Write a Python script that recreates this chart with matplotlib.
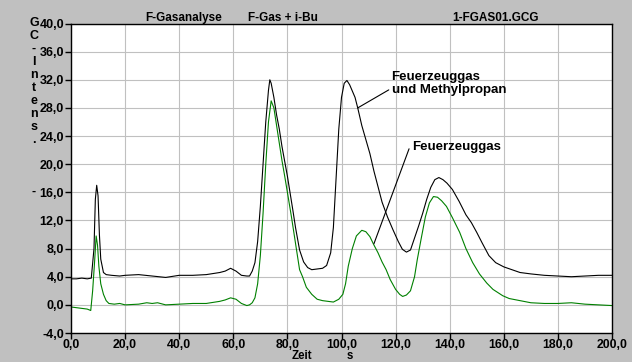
import matplotlib
matplotlib.use("Agg")
import matplotlib.pyplot as plt
from matplotlib.ticker import FuncFormatter

# ---- data ----
x_black = [0, 2, 4, 6, 7.5, 8.5, 9.0, 9.5, 10.0, 10.5, 11, 12, 13, 15, 18, 20, 25, 30, 35, 40, 45, 50,
           55, 57, 59, 61, 63, 65, 66, 67, 68, 69, 70, 71, 72, 73, 73.5, 74, 75, 76, 77, 78, 80, 82,
           83, 84.5, 86, 87.5, 89, 91, 93, 94.5, 96, 97, 98, 99, 100, 101, 102, 103, 104, 105, 106,
           107.5, 109, 110.5, 112, 113.5, 115, 117, 119, 121, 122.5, 124, 125.5, 127, 128.5, 130,
           131.5, 133, 134.5, 136, 137.5, 139, 141, 143.5, 146, 148, 150, 152, 154.5, 157, 160, 163,
           166, 170, 175, 180, 185, 190, 195, 200]
y_black = [3.7, 3.7, 3.8, 3.7, 3.8, 8.0, 15.0, 17.0, 15.5, 10.0, 6.5, 4.6, 4.3, 4.2, 4.1, 4.2, 4.3, 4.1,
           3.9, 4.2, 4.2, 4.3, 4.6, 4.8, 5.2, 4.8, 4.2, 4.1, 4.1, 4.8, 6.0, 9.0, 14.0, 20.0, 26.0, 30.5,
           32.0, 31.5, 29.5, 27.0, 25.0, 22.5, 18.3, 13.5, 11.0, 7.8, 6.1, 5.3, 5.0, 5.1, 5.2, 5.6, 7.4,
           11.0, 18.0, 25.0, 29.5, 31.5, 31.9, 31.3, 30.4, 29.5, 28.0, 25.5, 23.5, 21.5, 19.0, 16.8,
           14.6, 12.5, 10.7, 9.0, 7.9, 7.5, 7.8, 9.5, 11.2, 13.0, 15.0, 16.7, 17.8, 18.1, 17.8, 17.3,
           16.4, 14.7, 12.8, 11.7, 10.3, 8.8, 7.0, 6.0, 5.4, 5.0, 4.6, 4.4, 4.2, 4.1, 4.0, 4.1, 4.2, 4.2]

x_green = [0, 2, 4, 6, 7.3, 8, 8.7, 9.3, 9.8, 10.3, 11, 12, 13, 14, 16, 18, 20, 25, 28, 30, 32, 35, 40,
           45, 50, 55, 57, 59, 61, 63, 65, 66, 67, 68, 69, 70, 71, 72, 73, 74, 75, 76, 77, 78, 79, 80,
           81.5, 83.3, 84.5, 85.6, 87, 89, 91, 93, 95, 97, 99, 100.5, 101.5, 102.5, 104, 105.5, 107.5,
           109, 110.5, 112, 113.5, 115, 116.5, 118, 120, 121.5, 122.6, 124, 125.5, 127, 128, 129.5,
           131, 132.5, 134, 135.5, 137, 138.8, 141, 143.7, 146, 148.5, 151, 153.7, 156, 159.6, 162,
           166, 170, 175, 180, 185, 190, 195, 200]
y_green = [-0.3, -0.4, -0.5, -0.6, -0.8, 2.0, 6.0, 9.8, 8.5, 5.5, 3.0, 1.5, 0.6, 0.2, 0.1, 0.2, 0.0, 0.1,
           0.3, 0.2, 0.3, 0.0, 0.1, 0.2, 0.2, 0.5, 0.7, 1.0, 0.8, 0.2, -0.1, 0.0, 0.3, 1.0, 3.0, 7.0,
           13.0, 20.0, 26.0, 29.0, 28.0, 25.5, 23.0, 20.5, 18.3, 16.0, 12.5, 8.0, 5.0, 4.0, 2.5, 1.5,
           0.8, 0.6, 0.5, 0.4, 0.8, 1.5, 3.0, 5.5, 8.0, 9.8, 10.6, 10.4, 9.7, 8.5, 7.4, 6.1, 5.0, 3.6,
           2.2, 1.5, 1.2, 1.4, 2.0, 4.0, 6.4, 9.5, 12.5, 14.5, 15.4, 15.3, 14.8, 14.0, 12.4, 10.3, 8.0,
           6.0, 4.4, 3.1, 2.2, 1.3, 0.9, 0.6, 0.3, 0.2, 0.2, 0.3, 0.1, 0.0, -0.1]

x_ticks = [0, 20, 40, 60, 80, 100, 120, 140, 160, 180, 200]
y_ticks = [-4, 0, 4, 8, 12, 16, 20, 24, 28, 32, 36, 40]

FONT = ["Liberation Sans", "DejaVu Sans"]
plt.rcParams['font.family'] = FONT
plt.rcParams['font.weight'] = 'bold'

fig = plt.figure(figsize=(6.32, 3.62), dpi=100, facecolor="#c0c0c0")
ax = fig.add_axes([71/632, 1-333/362, (612-71)/632, (333-23.5)/362])
ax.set_facecolor("white")

ax.plot(x_black, y_black, color="black", lw=0.8)
ax.plot(x_green, y_green, color="#008000", lw=0.8)

ax.set_xlim(0, 200)
ax.set_ylim(-4, 40)
ax.set_xticks(x_ticks)
ax.set_yticks(y_ticks)
fmt = FuncFormatter(lambda v, p: f"{v:.1f}".replace(".", ","))
ax.xaxis.set_major_formatter(fmt)
ax.yaxis.set_major_formatter(fmt)
ax.grid(True, color="#c0c0c0", lw=0.8)
ax.set_axisbelow(True)
ax.tick_params(direction="out", length=4, width=1, colors="black", labelsize=9, pad=1)
ax.tick_params(axis="x", pad=0, labelsize=8.8)
for lab in ax.get_xticklabels() + ax.get_yticklabels():
    lab.set_fontweight("bold")
for s in ax.spines.values():
    s.set_color("black")
    s.set_linewidth(1)

# header texts
fs_h = 8.5
fig.text(145/632, 1-18/362, "F-Gasanalyse", fontsize=fs_h, fontweight="bold", va="center", ha="left")
fig.text(248/632, 1-18/362, "F-Gas + i-Bu", fontsize=fs_h, fontweight="bold", va="center", ha="left")
fig.text(452/632, 1-18/362, "1-FGAS01.GCG", fontsize=fs_h, fontweight="bold", va="center", ha="left")

# stacked y label
letters = ["G", "C", "-", "I", "n", "t", "e", "n", "s", ".", "", "", "", "-"]
for i, ch in enumerate(letters):
    if ch:
        fig.text(34/632, 1-(23+i*13)/362, ch, fontsize=9, fontweight="bold", va="center", ha="center")

# x label
fig.text(302/632, 0.0, "Zeit", fontsize=8.3, fontweight="bold", va="bottom", ha="center")
fig.text(350/632, 0.0, "s", fontsize=8.3, fontweight="bold", va="bottom", ha="center")

# annotations
ax.annotate("Feuerzeuggas\nund Methylpropan", xy=(106, 28), xytext=(118.5, 31.5),
            fontsize=9.5, fontweight="bold", ha="left", va="center", linespacing=1.1,
            arrowprops=dict(arrowstyle="-", color="black", lw=0.8, shrinkA=0, shrinkB=0,
                            relpos=(0, 0.3)))
ax.annotate("Feuerzeuggas", xy=(112, 8.7), xytext=(126, 22.4),
            fontsize=9.5, fontweight="bold", ha="left", va="center",
            arrowprops=dict(arrowstyle="-", color="black", lw=0.8, shrinkA=0, shrinkB=0,
                            relpos=(-0.03, 0.4)))

fig.savefig("out.png", dpi=100, facecolor=fig.get_facecolor())
